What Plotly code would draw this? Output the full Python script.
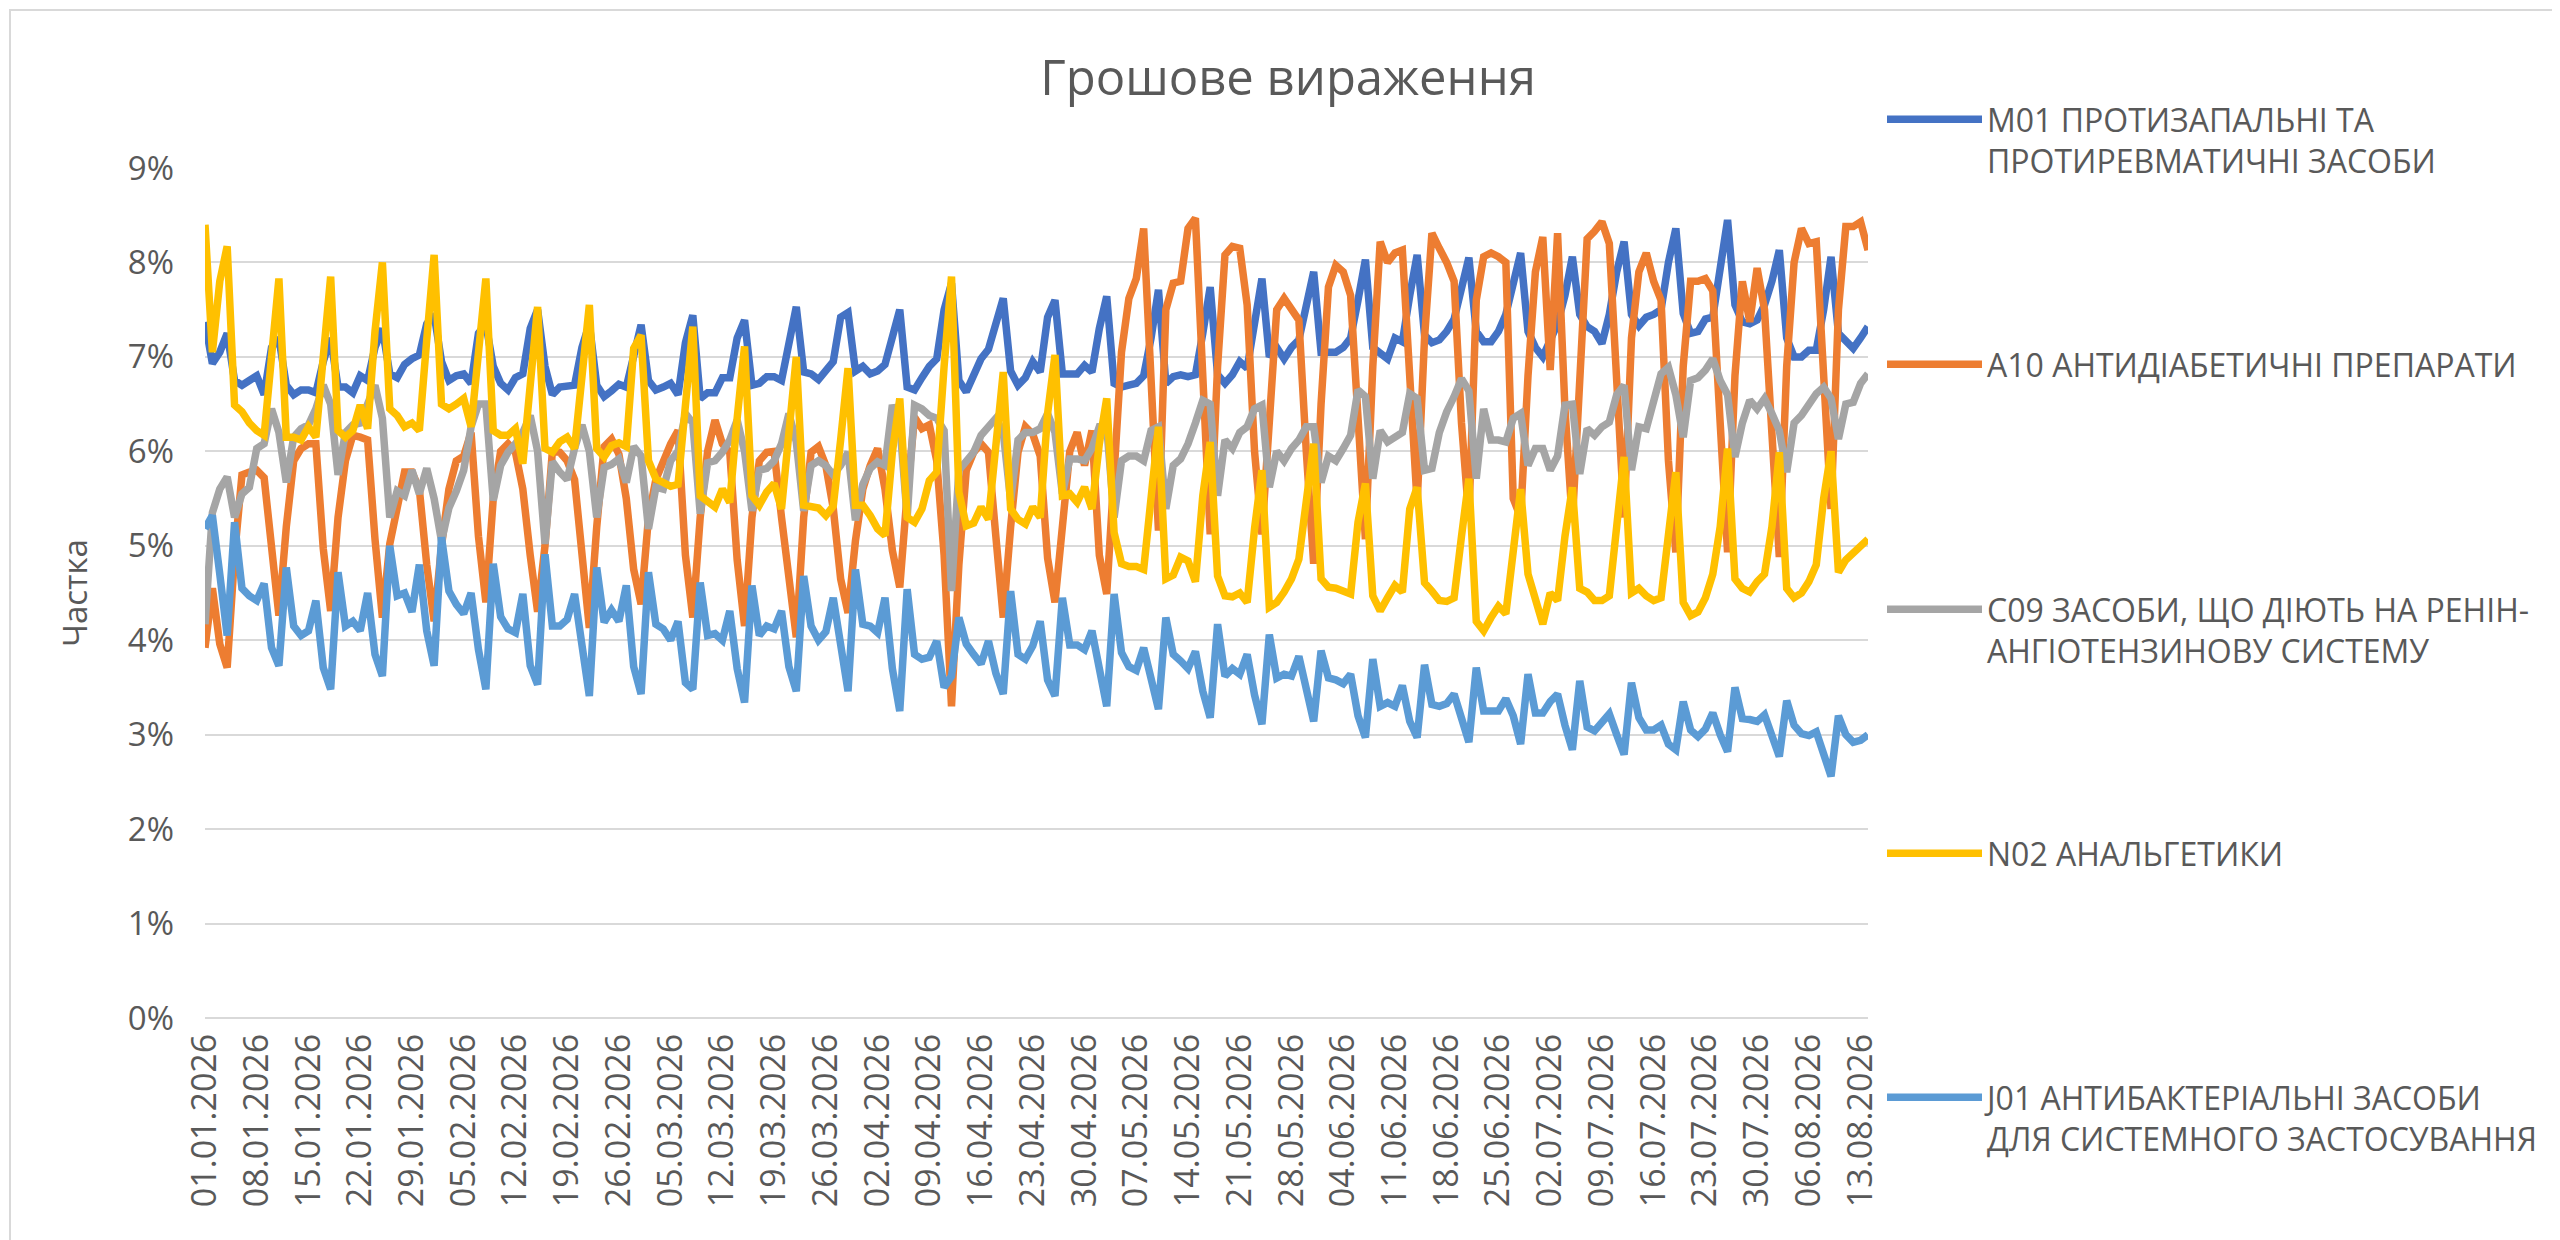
import pandas as pd
import plotly.graph_objects as go

# daily share (%) of money value, 01.01.2026 - 14.08.2026
start_date = "2026-01-01"

m01 = [
    7.37, 6.93, 7.05, 7.25, 6.75, 6.70, 6.75,
    6.80, 6.60, 7.10, 7.20, 6.70, 6.60, 6.65,
    6.65, 6.62, 6.95, 7.20, 6.68, 6.68, 6.62,
    6.80, 6.75, 7.10, 7.30, 6.82, 6.78, 6.92,
    6.98, 7.02, 7.35, 7.45, 6.95, 6.75, 6.80,
    6.82, 6.72, 7.25, 7.35, 6.90, 6.72, 6.65,
    6.78, 6.82, 7.30, 7.50, 6.90, 6.60, 6.68,
    6.70, 6.70, 7.10, 7.35, 6.70, 6.58, 6.64,
    6.71, 6.68, 7.05, 7.34, 6.75, 6.65, 6.68,
    6.72, 6.60, 7.15, 7.44, 6.56, 6.62, 6.62,
    6.78, 6.78, 7.20, 7.39, 6.70, 6.72, 6.79,
    6.79, 6.75, 7.14, 7.53, 6.84, 6.82, 6.76,
    6.85, 6.95, 7.42, 7.47, 6.85, 6.90, 6.82,
    6.85, 6.92, 7.25, 7.50, 6.68, 6.65, 6.78,
    6.90, 6.98, 7.50, 7.78, 6.75, 6.63, 6.82,
    6.98, 7.08, 7.35, 7.62, 6.85, 6.70, 6.78,
    6.95, 6.84, 7.42, 7.60, 6.82, 6.82, 6.82,
    6.91, 6.84, 7.30, 7.64, 6.72, 6.68, 6.70,
    6.72, 6.80, 7.20, 7.71, 6.72, 6.79, 6.81,
    6.79, 6.81, 7.25, 7.74, 6.81, 6.72, 6.81,
    6.95, 6.88, 7.32, 7.83, 7.00, 7.10, 6.98,
    7.10, 7.18, 7.50, 7.90, 7.05, 7.05, 7.05,
    7.10, 7.20, 7.60, 8.03, 7.10, 7.05, 6.98,
    7.20, 7.16, 7.65, 8.08, 7.23, 7.15, 7.18,
    7.27, 7.40, 7.75, 8.05, 7.27, 7.16, 7.16,
    7.27, 7.45, 7.75, 8.10, 7.27, 7.10, 7.00,
    7.20, 7.35, 7.65, 8.06, 7.45, 7.32, 7.27,
    7.14, 7.45, 7.90, 8.22, 7.45, 7.33, 7.42,
    7.45, 7.50, 8.00, 8.36, 7.46, 7.25, 7.27,
    7.40, 7.42, 7.90, 8.45, 7.55, 7.37, 7.35,
    7.39, 7.55, 7.80, 8.13, 7.20, 7.00, 7.00,
    7.07, 7.07, 7.50, 8.06, 7.25, 7.18, 7.09,
    7.20, 7.32,
]

a10 = [
    3.92, 4.55, 3.96, 3.71, 4.90, 5.75, 5.78,
    5.80, 5.72, 4.97, 4.26, 5.20, 5.90, 6.03,
    6.08, 6.08, 4.97, 4.31, 5.30, 5.90, 6.17,
    6.15, 6.12, 5.07, 4.24, 5.02, 5.45, 5.78,
    5.78, 5.60, 4.80, 4.20, 5.00, 5.60, 5.90,
    5.95, 6.20, 5.10, 4.40, 5.50, 6.00, 6.08,
    5.99, 5.60, 4.90, 4.30, 5.00, 6.00, 5.99,
    5.90, 5.70, 4.90, 4.13, 5.20, 6.05, 6.13,
    5.97, 5.50, 4.75, 4.38, 5.30, 5.70, 5.90,
    6.08, 6.22, 4.90, 4.24, 5.30, 6.00, 6.33,
    6.08, 5.99, 4.85, 4.15, 5.30, 5.90, 5.99,
    6.00, 5.30, 4.65, 4.03, 5.30, 5.99, 6.05,
    5.85, 5.40, 4.65, 4.29, 5.05, 5.60, 5.85,
    6.03, 5.60, 4.95, 4.56, 5.55, 6.36, 6.24,
    6.28, 5.90, 4.90, 3.30, 4.80, 5.80, 5.99,
    6.08, 5.99, 5.10, 4.24, 5.20, 5.99, 6.26,
    6.18, 5.95, 4.87, 4.40, 5.30, 6.00, 6.20,
    5.85, 6.22, 4.90, 4.49, 5.90, 7.05, 7.62,
    7.83, 8.36, 6.80, 5.16, 7.50, 7.78, 7.80,
    8.36, 8.47, 6.68, 5.12, 6.90, 8.08, 8.17,
    8.15, 7.55, 6.00, 5.12, 6.30, 7.50, 7.62,
    7.50, 7.39, 6.00, 4.81, 6.50, 7.74, 7.97,
    7.90, 7.65, 6.30, 5.07, 6.90, 8.22, 8.00,
    8.10, 8.13, 6.90, 5.45, 7.20, 8.31, 8.15,
    8.00, 7.80, 6.30, 5.30, 7.60, 8.06, 8.10,
    8.06, 8.00, 5.50, 5.30, 6.80, 7.90, 8.27,
    6.86, 8.31, 6.45, 5.25, 6.90, 8.25, 8.33,
    8.43, 8.20, 6.90, 5.30, 7.20, 7.90, 8.10,
    7.80, 7.60, 5.90, 4.93, 6.90, 7.80, 7.80,
    7.83, 7.70, 6.30, 4.93, 6.80, 7.80, 7.37,
    7.94, 7.50, 6.30, 4.88, 6.90, 8.00, 8.36,
    8.20, 8.22, 6.60, 5.39, 7.50, 8.38, 8.38,
    8.43, 8.13,
]

c09 = [
    4.17, 5.35, 5.60, 5.73, 5.30, 5.55, 5.62,
    6.03, 6.08, 6.45, 6.20, 5.67, 6.15, 6.24,
    6.28, 6.45, 6.70, 6.50, 5.75, 6.20, 6.28,
    6.30, 6.50, 6.70, 6.35, 5.30, 5.58, 5.53,
    5.80, 5.55, 5.82, 5.50, 5.05, 5.40, 5.58,
    5.80, 6.26, 6.50, 6.50, 5.48, 5.85, 5.99,
    6.08, 6.20, 6.38, 6.00, 5.02, 5.89, 5.78,
    5.70, 6.03, 6.28, 6.00, 5.30, 5.83, 5.86,
    5.92, 5.67, 6.05, 5.95, 5.18, 5.62, 5.60,
    5.90, 6.00, 6.40, 6.30, 5.34, 5.88, 5.90,
    5.99, 6.12, 6.33, 6.00, 5.37, 5.80, 5.82,
    5.90, 6.08, 6.40, 6.10, 5.37, 5.85, 5.90,
    5.85, 5.75, 5.85, 5.99, 5.27, 5.65, 5.82,
    5.89, 5.85, 6.49, 6.30, 5.30, 6.49, 6.45,
    6.38, 6.35, 6.22, 4.52, 5.80, 5.90, 5.99,
    6.17, 6.26, 6.35, 6.20, 5.48, 6.12, 6.20,
    6.20, 6.24, 6.40, 6.20, 5.55, 5.92, 5.92,
    5.90, 6.03, 6.26, 6.26, 5.30, 5.90, 5.95,
    5.95, 5.90, 6.22, 6.26, 5.39, 5.85, 5.92,
    6.08, 6.30, 6.54, 6.50, 5.53, 6.12, 6.03,
    6.20, 6.26, 6.45, 6.49, 5.62, 6.00, 5.90,
    6.03, 6.12, 6.26, 6.26, 5.67, 5.95, 5.90,
    6.03, 6.17, 6.65, 6.58, 5.71, 6.22, 6.10,
    6.15, 6.20, 6.61, 6.56, 5.80, 5.82, 6.20,
    6.42, 6.58, 6.77, 6.64, 5.71, 6.45, 6.12,
    6.12, 6.10, 6.35, 6.40, 5.85, 6.03, 6.03,
    5.80, 5.95, 6.49, 6.50, 5.76, 6.24, 6.17,
    6.26, 6.31, 6.60, 6.70, 5.80, 6.26, 6.24,
    6.54, 6.82, 6.89, 6.60, 6.15, 6.75, 6.78,
    6.86, 6.98, 6.75, 6.60, 5.94, 6.30, 6.54,
    6.45, 6.56, 6.40, 6.22, 5.78, 6.30, 6.38,
    6.50, 6.61, 6.68, 6.56, 6.13, 6.50, 6.52,
    6.72, 6.82,
]

n02 = [
    8.40, 7.05, 7.80, 8.17, 6.49, 6.42, 6.30,
    6.22, 6.17, 7.00, 7.83, 6.15, 6.15, 6.12,
    6.26, 6.15, 7.00, 7.85, 6.22, 6.15, 6.22,
    6.49, 6.24, 7.27, 8.00, 6.45, 6.38, 6.26,
    6.30, 6.22, 7.18, 8.08, 6.50, 6.45, 6.50,
    6.56, 6.26, 7.05, 7.83, 6.22, 6.17, 6.17,
    6.24, 5.87, 6.72, 7.53, 6.03, 5.99, 6.10,
    6.15, 6.03, 6.81, 7.55, 6.03, 5.94, 6.06,
    6.09, 6.05, 7.09, 7.23, 5.90, 5.71, 5.66,
    5.63, 5.65, 6.50, 7.32, 5.53, 5.46, 5.41,
    5.60, 5.46, 6.35, 7.11, 5.53, 5.43, 5.57,
    5.66, 5.39, 6.26, 7.00, 5.43, 5.41, 5.40,
    5.32, 5.42, 6.12, 6.88, 5.43, 5.43, 5.32,
    5.18, 5.11, 5.99, 6.56, 5.30, 5.25, 5.39,
    5.69, 5.78, 6.90, 7.85, 5.57, 5.21, 5.24,
    5.41, 5.28, 6.08, 6.84, 5.39, 5.28, 5.23,
    5.41, 5.30, 6.40, 7.02, 5.53, 5.55, 5.46,
    5.62, 5.39, 6.08, 6.56, 5.14, 4.81, 4.78,
    4.78, 4.75, 5.53, 6.26, 4.65, 4.69, 4.88,
    4.84, 4.62, 5.53, 6.10, 4.68, 4.47, 4.46,
    4.50, 4.40, 5.18, 5.80, 4.35, 4.40, 4.51,
    4.65, 4.86, 5.43, 6.08, 4.65, 4.56, 4.55,
    4.51, 4.49, 5.25, 5.66, 4.47, 4.31, 4.45,
    4.58, 4.51, 5.39, 5.62, 4.61, 4.52, 4.42,
    4.41, 4.45, 5.10, 5.71, 4.20, 4.10, 4.24,
    4.36, 4.28, 4.98, 5.60, 4.70, 4.40, 4.17,
    4.50, 4.42, 5.10, 5.62, 4.55, 4.51, 4.42,
    4.42, 4.47, 5.20, 5.94, 4.50, 4.55, 4.47,
    4.42, 4.45, 5.20, 5.78, 4.40, 4.26, 4.30,
    4.45, 4.70, 5.20, 6.03, 4.65, 4.55, 4.51,
    4.62, 4.70, 5.20, 5.99, 4.55, 4.45, 4.50,
    4.62, 4.80, 5.50, 6.00, 4.72, 4.85, 4.92,
    5.00, 5.07,
]

j01 = [
    5.18, 5.32, 4.70, 4.05, 5.25, 4.55, 4.47,
    4.42, 4.60, 3.92, 3.73, 4.77, 4.15, 4.05,
    4.10, 4.42, 3.71, 3.48, 4.72, 4.15, 4.20,
    4.10, 4.50, 3.85, 3.62, 5.00, 4.47, 4.50,
    4.30, 4.80, 4.10, 3.73, 5.09, 4.52, 4.38,
    4.28, 4.50, 3.90, 3.48, 4.81, 4.25, 4.12,
    4.08, 4.49, 3.73, 3.53, 4.91, 4.15, 4.15,
    4.22, 4.49, 3.90, 3.41, 4.77, 4.19, 4.32,
    4.20, 4.58, 3.72, 3.43, 4.72, 4.17, 4.12,
    4.00, 4.20, 3.55, 3.48, 4.61, 4.05, 4.07,
    4.00, 4.31, 3.70, 3.34, 4.58, 4.05, 4.15,
    4.12, 4.31, 3.72, 3.46, 4.68, 4.15, 4.00,
    4.09, 4.45, 3.95, 3.46, 4.75, 4.17, 4.15,
    4.08, 4.45, 3.70, 3.25, 4.54, 3.85, 3.80,
    3.82, 3.99, 3.50, 3.62, 4.24, 3.96, 3.85,
    3.75, 3.99, 3.65, 3.43, 4.52, 3.85, 3.80,
    3.94, 4.20, 3.58, 3.41, 4.45, 3.95, 3.95,
    3.90, 4.10, 3.65, 3.30, 4.49, 3.87, 3.72,
    3.68, 3.92, 3.58, 3.27, 4.24, 3.85, 3.78,
    3.70, 3.88, 3.46, 3.18, 4.17, 3.62, 3.70,
    3.64, 3.85, 3.42, 3.11, 4.06, 3.60, 3.64,
    3.62, 3.83, 3.45, 3.14, 3.89, 3.60, 3.58,
    3.54, 3.64, 3.20, 2.97, 3.80, 3.30, 3.34,
    3.30, 3.52, 3.14, 2.97, 3.74, 3.32, 3.30,
    3.33, 3.43, 3.14, 2.92, 3.71, 3.25, 3.25,
    3.25, 3.38, 3.20, 2.90, 3.64, 3.23, 3.23,
    3.35, 3.43, 3.10, 2.84, 3.57, 3.08, 3.04,
    3.13, 3.22, 3.00, 2.79, 3.55, 3.18, 3.05,
    3.05, 3.10, 2.90, 2.84, 3.35, 3.05, 2.98,
    3.06, 3.23, 3.00, 2.82, 3.50, 3.17, 3.16,
    3.14, 3.21, 3.00, 2.77, 3.36, 3.10, 3.01,
    2.99, 3.03, 2.80, 2.56, 3.20, 3.00, 2.92,
    2.94, 3.00,
]

names = [
    "M01 ПРОТИЗАПАЛЬНІ ТА<br>ПРОТИРЕВМАТИЧНІ ЗАСОБИ",
    "A10 АНТИДІАБЕТИЧНІ ПРЕПАРАТИ",
    "C09 ЗАСОБИ, ЩО ДІЮТЬ НА РЕНІН-<br>АНГІОТЕНЗИНОВУ СИСТЕМУ",
    "N02 АНАЛЬГЕТИКИ",
    "J01 АНТИБАКТЕРІАЛЬНІ ЗАСОБИ<br>ДЛЯ СИСТЕМНОГО ЗАСТОСУВАННЯ",
]
colors = ["#4472C4", "#ED7D31", "#A5A5A5", "#FFC000", "#5B9BD5"]
series = [m01, a10, c09, n02, j01]
# pixel row of the first text line of every legend entry
legend_rows = [114, 359, 604, 848, 1092]

for s in series:
    assert len(s) == len(m01), len(s)

dates = pd.date_range(start_date, periods=len(m01), freq="D")

W, H = 2560, 1240
L, R, T, B = 197, 700, 160, 230
pw, ph = W - L - R, H - T - B
FONT = "Open Sans, Noto Sans, sans-serif"
GREY_TXT = "#595959"

fig = go.Figure()
legend_keys = ["legend", "legend2", "legend3", "legend4", "legend5"]
for name, color, vals, key in zip(names, colors, series, legend_keys):
    fig.add_trace(go.Scatter(
        x=dates, y=vals, name=name, mode="lines",
        line=dict(color=color, width=7.5),
        legend=key,
    ))

legends = {}
for key, row in zip(legend_keys, legend_rows):
    legends[key] = dict(
        x=(1874 - L) / pw, y=(H - B - (row - 30)) / ph,
        xanchor="left", yanchor="top",
        itemwidth=95, valign="top",
        font=dict(size=32, color=GREY_TXT),
        bgcolor="rgba(0,0,0,0)",
    )

fig.update_layout(
    width=W, height=H,
    margin=dict(l=L, r=R, t=T, b=B),
    paper_bgcolor="white", plot_bgcolor="white",
    font=dict(family=FONT, color=GREY_TXT, size=32),
    title=dict(
        text="Грошове вираження",
        x=0.5, xref="container", xanchor="center",
        y=1 - 70 / H, yref="container", yanchor="middle",
        font=dict(size=49, color=GREY_TXT),
    ),
    showlegend=True,
    **legends,
)

fig.update_xaxes(
    type="date",
    range=[dates[0], dates[-1]],
    tick0=dates[0], dtick=7 * 86400000,
    tickformat="%d.%m.%Y", tickangle=-90,
    showgrid=False, zeroline=False, showline=False, ticks="",
    ticklabelstandoff=8,
    tickfont=dict(size=34, color=GREY_TXT),
)
fig.update_yaxes(
    range=[0, 9], dtick=1, ticksuffix="%",
    showgrid=True, gridcolor="#D9D9D9", gridwidth=2,
    zeroline=True, zerolinecolor="#D9D9D9", zerolinewidth=2,
    showline=False, ticks="",
    ticklabelstandoff=30,
    tickfont=dict(size=33, color=GREY_TXT),
    title=dict(text="Частка", standoff=30, font=dict(size=33, color=GREY_TXT)),
)

# thin chart border like the spreadsheet chart area
fig.add_shape(
    type="rect", xref="paper", yref="paper",
    x0=(2 - L) / pw, x1=(W - 3 - L) / pw,
    y0=(H - B - (H - 3)) / ph, y1=(H - B - 2) / ph,
    line=dict(color="#D9D9D9", width=2), fillcolor="rgba(0,0,0,0)",
    layer="below",
)

fig.write_html("out.html")
